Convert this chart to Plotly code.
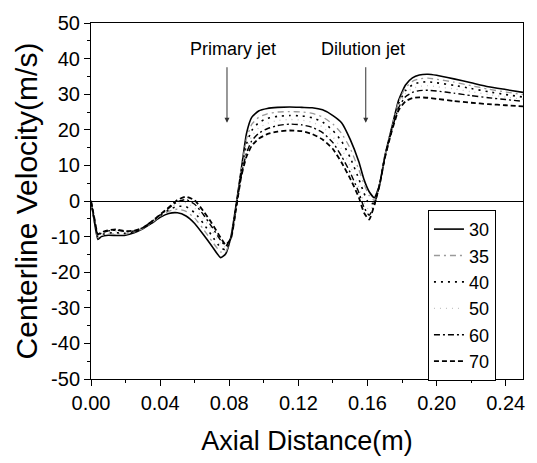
import plotly.graph_objects as go

x_m = [0.000, 0.002, 0.004, 0.006, 0.010, 0.015, 0.020, 0.025, 0.030, 0.035,
       0.040, 0.045, 0.050, 0.055, 0.060, 0.065, 0.070, 0.075, 0.078, 0.081,
       0.084, 0.087, 0.090, 0.093, 0.097, 0.102, 0.108, 0.115, 0.122, 0.128,
       0.134, 0.140, 0.145, 0.150, 0.155, 0.158, 0.161, 0.164, 0.167, 0.170,
       0.174, 0.178, 0.182, 0.186, 0.190, 0.195, 0.200, 0.210, 0.220, 0.230,
       0.240, 0.250]

v30 = [0, -6.0, -10.8, -10.0, -9.6, -9.7, -9.6, -8.9, -7.8, -6.3,
       -4.6, -3.5, -3.3, -4.2, -6.3, -9.4, -12.7, -15.9, -14.8, -10.0,
       -1.0, 9.0, 19.0, 23.5, 25.3, 26.0, 26.3, 26.4, 26.3, 26.2,
       25.6, 24.0, 22.0, 17.3, 11.0, 6.0, 2.6, 0.9, 4.6, 12.5,
       20.5, 28.3, 32.6, 34.6, 35.4, 35.6, 35.3, 34.3, 33.2, 32.1,
       31.3, 30.5]

v35 = [0, -5.8, -10.3, -9.7, -9.3, -9.2, -9.3, -8.7, -7.7, -6.1,
       -4.3, -2.9, -2.3, -2.9, -4.8, -7.9, -11.3, -14.3, -14.2, -10.3,
       -1.3, 9.0, 17.5, 21.5, 23.5, 24.5, 25.0, 25.1, 25.0, 24.6,
       23.6, 21.6, 19.0, 14.8, 8.8, 4.8, 1.5, 0.2, 4.8, 12.4,
       20.4, 27.8, 31.8, 33.6, 34.3, 34.5, 34.2, 33.4, 32.4, 31.4,
       30.6, 29.9]

v40 = [0, -5.6, -10.0, -9.4, -9.0, -8.9, -9.1, -8.6, -7.6, -6.0,
       -4.1, -2.5, -1.5, -1.6, -3.3, -6.3, -9.8, -13.1, -13.7, -10.3,
       -1.5, 8.4, 16.0, 19.8, 22.0, 23.2, 23.8, 24.0, 23.9, 23.4,
       22.2, 19.8, 16.8, 12.2, 6.2, 2.2, -0.8, -0.5, 4.7, 12.3,
       20.2, 27.3, 31.0, 32.6, 33.3, 33.5, 33.2, 32.5, 31.6, 30.7,
       29.9, 29.2]

v50 = [0, -5.4, -9.8, -9.2, -8.7, -8.5, -8.8, -8.5, -7.6, -5.9,
       -4.0, -2.2, -0.7, -0.5, -2.0, -4.9, -8.3, -11.9, -13.0, -10.4,
       -1.7, 7.8, 14.6, 18.2, 20.5, 21.8, 22.6, 22.9, 22.7, 22.1,
       20.8, 18.0, 14.6, 9.8, 3.8, -0.3, -2.6, -1.0, 4.6, 12.2,
       20.0, 26.6, 30.2, 31.6, 32.2, 32.4, 32.1, 31.5, 30.7, 29.9,
       29.2, 28.6]

v60 = [0, -5.2, -9.6, -9.0, -8.4, -8.2, -8.6, -8.4, -7.5, -5.8,
       -3.9, -2.0, -0.2, 0.4, -0.9, -3.8, -7.3, -11.0, -12.6, -10.4,
       -1.8, 7.3, 13.5, 16.9, 19.0, 20.3, 21.2, 21.6, 21.4, 20.7,
       19.2, 16.4, 12.6, 8.0, 2.4, -1.8, -4.0, -1.2, 4.5, 12.1,
       19.8, 26.2, 29.3, 30.5, 31.0, 31.1, 30.9, 30.3, 29.6, 29.0,
       28.5, 28.0]

v70 = [0, -5.0, -9.4, -8.8, -8.2, -8.0, -8.5, -8.3, -7.5, -5.8,
       -3.8, -1.8, 0.3, 1.2, 0.2, -2.8, -6.3, -10.3, -12.3, -10.5,
       -2.0, 7.0, 12.5, 15.5, 17.5, 18.8, 19.5, 19.8, 19.6, 18.8,
       17.3, 14.6, 10.8, 6.3, 1.0, -3.3, -5.2, -1.0, 4.5, 12.0,
       19.5, 25.5, 28.0, 28.9, 29.1, 29.0, 28.7, 28.1, 27.6, 27.2,
       26.9, 26.6]

series_names = ["30", "35", "40", "50", "60", "70"]
series_values = [v30, v35, v40, v50, v60, v70]

x_ticks = [0.00, 0.04, 0.08, 0.12, 0.16, 0.20, 0.24]
x_tick_labels = ["0.00", "0.04", "0.08", "0.12", "0.16", "0.20", "0.24"]
y_ticks = [50, 40, 30, 20, 10, 0, -10, -20, -30, -40, -50]
y_tick_labels = ["50", "40", "30", "20", "10", "0", "-10", "-20", "-30", "-40", "-50"]

jet_labels = ["Primary jet", "Dilution jet"]
jet_x = [0.0787, 0.1590]
jet_text_x = [0.0822, 0.1575]

styles = [
    dict(color="black", width=1.6, dash="solid"),
    dict(color="#9a9a9a", width=1.3, dash="6px,4px,2px,4px"),
    dict(color="black", width=1.6, dash="2px,5px"),
    dict(color="#c4c4c4", width=1.3, dash="1px,5px"),
    dict(color="black", width=1.4, dash="6px,3px,2px,3px"),
    dict(color="black", width=1.8, dash="5px,3px"),
]

FONT = "Arial, Liberation Sans, sans-serif"

fig = go.Figure()
for name, vals, st in zip(series_names, series_values, styles):
    fig.add_trace(go.Scatter(x=x_m, y=vals, mode="lines", name=name,
                             line=dict(shape="spline", smoothing=0.5, **st)))

for lab, ax_, tx in zip(jet_labels, jet_x, jet_text_x):
    fig.add_annotation(x=ax_, y=22, ax=ax_, ay=38, xref="x", yref="y",
                       axref="x", ayref="y", text="", showarrow=True,
                       arrowhead=2, arrowsize=1, arrowwidth=1, arrowcolor="#333")
    fig.add_annotation(x=tx, y=42.7, xref="x", yref="y", text=lab,
                       showarrow=False, font=dict(family=FONT, size=18, color="black"))

fig.update_layout(
    width=537, height=463,
    margin=dict(l=91, r=14, t=15, b=80),
    paper_bgcolor="white", plot_bgcolor="white",
    font=dict(family=FONT, size=20, color="black"),
    showlegend=True,
    legend=dict(x=0.78, y=0.475, xanchor="left", yanchor="top",
                bordercolor="black", borderwidth=1, bgcolor="white",
                font=dict(family=FONT, size=18), tracegroupgap=0),
    xaxis=dict(range=[0, 0.25], tickvals=x_ticks, ticktext=x_tick_labels,
               ticks="outside", ticklen=6, tickwidth=1, tickcolor="black",
               minor=dict(dtick=0.02, ticks="outside", ticklen=3, tickcolor="black"),
               showline=True, linecolor="black", linewidth=1, mirror=True,
               showgrid=False, zeroline=False,
               title=dict(text="Axial Distance(m)", font=dict(size=27), standoff=18),
               tickfont=dict(size=20)),
    yaxis=dict(range=[-50, 50], tickvals=y_ticks, ticktext=y_tick_labels,
               ticks="outside", ticklen=6, tickwidth=1, tickcolor="black",
               minor=dict(dtick=5, ticks="outside", ticklen=3, tickcolor="black"),
               showline=True, linecolor="black", linewidth=1, mirror=True,
               showgrid=False, zeroline=True, zerolinecolor="black", zerolinewidth=1,
               title=dict(text="Centerline Velocity(m/s)", font=dict(size=30), standoff=4),
               tickfont=dict(size=20)),
)

fig.write_html("out.html")
